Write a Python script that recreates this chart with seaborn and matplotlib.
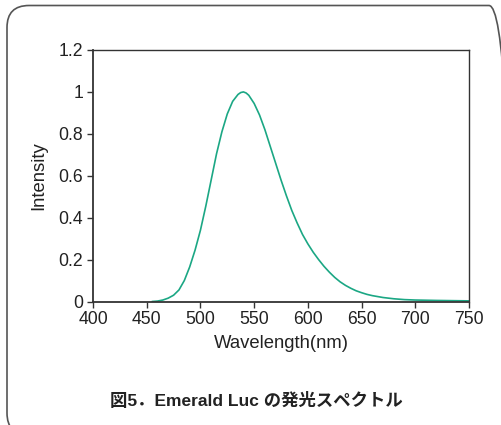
import numpy as np
import pandas as pd
import matplotlib as mpl
mpl.use("Agg")
import matplotlib.pyplot as plt
from matplotlib.patches import FancyBboxPatch
from matplotlib.transforms import IdentityTransform
import seaborn as sns

# emission spectrum
wavelength = [455, 460, 465, 470, 475, 480, 485, 490, 495, 500, 505, 510, 515,
              520, 525, 530, 535, 537.5, 540, 542.5, 545, 550, 555, 560, 565,
              570, 575, 580, 585, 590, 595, 600, 605, 610, 615, 620, 625, 630,
              635, 640, 645, 650, 655, 660, 670, 680, 690, 700, 720, 750]
intensity = [0.0, 0.002, 0.007, 0.016, 0.03, 0.055, 0.1, 0.165, 0.245, 0.34,
             0.455, 0.58, 0.705, 0.81, 0.895, 0.955, 0.988, 0.997, 1.0, 0.995,
             0.984, 0.945, 0.89, 0.82, 0.74, 0.66, 0.58, 0.505, 0.435, 0.375,
             0.32, 0.275, 0.235, 0.2, 0.168, 0.14, 0.115, 0.094, 0.077, 0.063,
             0.051, 0.042, 0.034, 0.028, 0.019, 0.013, 0.009, 0.007, 0.005,
             0.003]
xticks = [400, 450, 500, 550, 600, 650, 700, 750]
yticks = [0, 0.2, 0.4, 0.6, 0.8, 1.0, 1.2]
ytick_labels = ["0", "0.2", "0.4", "0.6", "0.8", "1", "1.2"]
caption = "図5．Emerald Luc の発光スペクトル"

df = pd.DataFrame({"Wavelength": wavelength, "Intensity": intensity})

sns.set_style("white")
plt.rcParams["font.family"] = ["Liberation Sans", "DejaVu Sans"]

fig = plt.figure(figsize=(5.02, 4.25), dpi=100)
ax = fig.add_axes([93 / 502, 1 - 301.5 / 425, 376 / 502, 251.5 / 425])

sns.lineplot(data=df, x="Wavelength", y="Intensity", ax=ax, color="#1BA784", linewidth=1.2)

ax.set_xlim(400, 750)
ax.set_ylim(0, 1.2)
ax.set_xticks(xticks)
ax.set_yticks(yticks)
ax.set_yticklabels(ytick_labels)
ax.tick_params(axis="both", direction="out", length=4, width=1, color="#333333",
               labelsize=12.7, labelcolor="#222222", pad=3)
ax.tick_params(axis="x", bottom=True, top=False)
ax.tick_params(axis="y", left=True, right=False)
for side, sp in ax.spines.items():
    sp.set_color("#333333")
    sp.set_linewidth(1.3 if side in ("left", "bottom") else 1.0)
    sp.set_visible(True)

ax.set_xlabel("Wavelength(nm)", fontsize=13.3, color="#222222", labelpad=5)
ax.set_ylabel("Intensity", fontsize=13.3, color="#222222", labelpad=8)

# rounded frame around the whole figure (pixel coords, origin bottom-left)
frame = FancyBboxPatch((7, -10), 504, 429.5,
                       boxstyle="round,pad=0,rounding_size=22",
                       transform=IdentityTransform(), fill=False,
                       edgecolor="#555555", linewidth=1.2)
fig.patches.append(frame)

fig.text(256 / 502, 1 - 400 / 425, caption, ha="center", va="center",
         fontsize=12.5, fontweight="bold", color="#222222",
         family=["Liberation Sans", "Noto Sans CJK JP", "DejaVu Sans"])

fig.savefig("out.png", dpi=100)
